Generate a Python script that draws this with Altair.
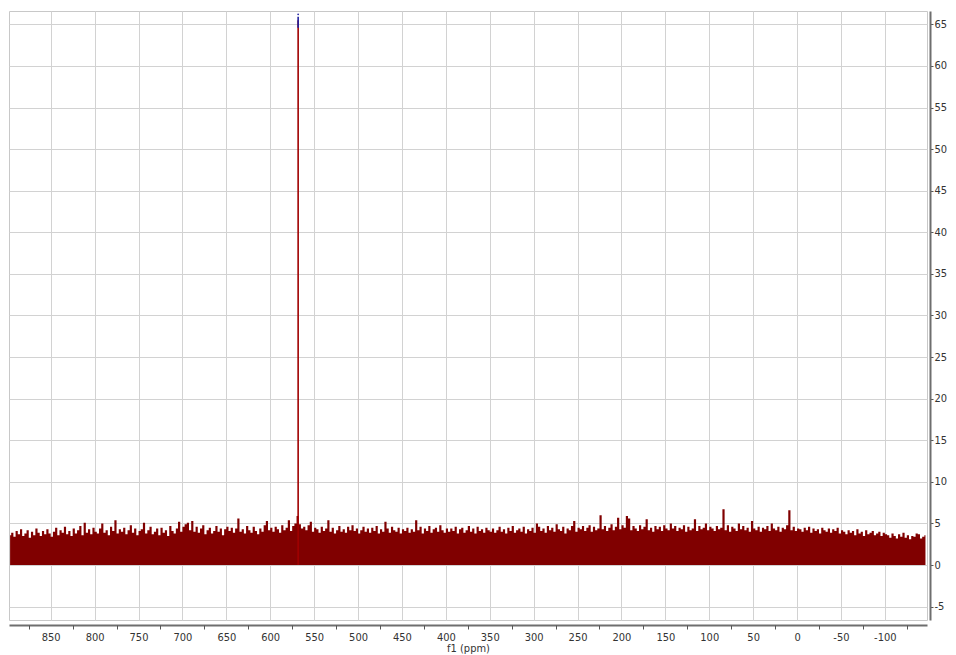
import altair as alt
import pandas as pd
import numpy as np

# spectrum sampled in 2.5 ppm bins, starting at the left edge (897.5 ppm)
ppm_start = 897.5
ppm_step = 2.5
noise = [
    3.6,3.9,3.4,4.1,3.7,4.3,3.5,3.8,4.2,3.3,4.0,3.6,4.4,3.9,3.5,4.1,3.7,4.3,3.8,3.4,
    4.0,4.5,3.6,4.2,3.9,4.6,3.7,4.1,3.5,4.4,3.8,4.2,4.7,3.6,5.1,3.9,4.3,3.7,4.5,4.0,
    3.8,4.4,5.0,3.9,4.2,3.6,4.6,4.1,5.4,3.8,4.3,4.0,4.5,3.7,4.2,4.8,3.9,4.4,3.6,4.1,
    4.3,5.1,3.8,4.2,4.6,3.7,4.0,4.4,3.6,4.5,3.9,4.2,3.5,4.7,4.1,3.8,4.4,5.2,4.0,4.6,
    4.9,5.1,4.2,5.3,4.0,4.6,3.9,4.4,4.8,3.7,4.2,4.5,3.8,4.1,4.7,4.0,4.4,3.6,4.3,4.6,
    4.1,4.5,3.9,4.4,5.6,4.0,4.3,3.8,4.7,4.2,3.9,4.6,4.1,3.7,4.4,4.0,4.8,5.3,4.2,4.5,
    4.0,4.6,4.3,3.9,4.8,4.2,4.5,5.4,4.1,4.7,5.0,5.9,4.9,4.4,4.6,4.2,4.8,5.2,4.0,4.5,
    4.3,3.9,4.6,4.1,4.4,5.4,4.0,4.5,3.8,4.2,4.7,4.0,4.3,3.9,4.6,4.2,4.8,4.1,4.4,3.8,
    4.2,4.6,4.0,4.4,3.9,4.5,4.1,4.7,3.8,4.3,4.0,5.2,4.4,3.9,4.6,4.2,4.0,4.5,3.8,4.3,
    4.1,4.5,3.9,4.3,4.0,5.4,4.2,4.6,3.8,4.4,4.1,4.7,3.9,4.3,4.5,4.0,4.8,4.2,3.9,4.4,
    4.0,4.4,4.1,4.6,3.8,4.3,4.5,3.9,4.2,4.7,4.0,4.4,3.8,4.6,4.1,4.3,3.9,4.5,4.2,4.0,
    4.4,3.9,4.2,4.6,4.0,4.3,3.8,4.5,4.1,4.7,3.9,4.2,4.4,4.0,4.6,3.8,4.3,4.1,4.5,3.9,
    5.0,4.6,4.1,4.4,3.9,4.7,4.2,4.5,4.0,4.9,4.3,4.1,4.6,3.8,4.4,4.2,4.7,5.3,4.0,4.5,
    4.3,4.7,4.1,4.5,4.8,4.0,4.6,4.2,4.4,6.0,4.3,4.7,4.1,4.5,4.9,4.2,4.6,5.7,4.3,4.8,
    4.5,5.9,5.6,4.2,4.7,4.4,4.1,4.8,4.3,4.6,5.5,4.2,4.5,4.0,4.7,4.3,4.6,4.1,4.8,4.4,
    4.2,5.0,4.4,4.7,4.1,4.5,4.3,4.8,4.0,4.6,4.2,4.4,5.5,4.1,4.7,4.3,4.5,5.0,4.2,4.6,
    4.4,4.1,4.7,4.3,4.5,6.7,4.2,4.8,4.0,4.6,4.4,4.1,5.0,4.3,4.7,4.2,4.5,4.0,5.3,4.4,
    4.2,4.6,4.0,4.5,4.3,4.7,4.1,5.0,4.4,4.2,4.6,4.0,4.5,4.3,4.8,6.6,4.2,4.6,4.1,4.4,
    4.3,4.0,4.5,4.2,4.6,3.9,4.4,4.1,4.3,3.8,4.5,4.2,4.0,4.4,3.9,4.3,4.1,4.5,3.8,4.2,
    4.0,3.7,4.2,3.9,4.1,3.6,4.3,3.8,4.0,3.5,4.2,3.7,3.9,4.1,3.6,3.8,4.0,3.5,3.9,3.7,
    3.6,3.3,3.8,3.5,3.2,3.7,3.4,3.9,3.3,3.6,3.1,3.5,3.4,3.8,3.7,3.2,3.4,3.6,
]

peak_ppm = 568.2
peak_top = 65.5
tip_low = 64.6
tip_high = 65.9
marker_value = 66.2

x_domain = [-148, 897.5]
y_domain = [-6.6, 66.6]
x_major = list(range(850, -101, -50))
x_minor = list(range(875, -150, -50))
y_ticks = [-5 + 2.5 * k for k in range(29)]

centers = ppm_start - ppm_step * (np.arange(len(noise)) + 0.5)
df_noise = pd.DataFrame({"ppm": centers, "h": noise})
df_peak = pd.DataFrame({"ppm": [peak_ppm], "h": [peak_top], "lo": [tip_low],
                        "hi": [tip_high], "mk": [marker_value]})

FONT = "'DejaVu Sans Condensed', 'Liberation Sans', sans-serif"

x_scale = alt.Scale(domain=x_domain, reverse=True, nice=False, zero=False)
y_scale = alt.Scale(domain=y_domain, nice=False, zero=False)

x_axis = alt.Axis(
    values=x_major,
    labelExpr="'' + datum.value",
    labelOverlap=False,
    labelFlush=False,
    ticks=False,
    grid=True,
    title="f1 (ppm)",
    orient="bottom",
    offset=5,
    labelPadding=6,
    titlePadding=0,
)
x_minor_axis = alt.Axis(
    values=x_minor,
    labels=False,
    grid=False,
    domain=False,
    ticks=True,
    tickSize=4,
    title=None,
    orient="bottom",
    offset=5,
)
y_axis = alt.Axis(
    orient="right",
    values=y_ticks,
    labelExpr="datum.value % 5 === 0 ? '' + datum.value : ''",
    labelOverlap=False,
    labelFlush=False,
    gridOpacity={"condition": {"test": "datum.value % 5 === 0", "value": 1}, "value": 0},
    tickSize={"condition": {"test": "datum.value % 5 === 0", "value": 3}, "value": 2},
    title=None,
    offset=3,
    labelPadding=1,
)

noise_layer = alt.Chart(df_noise).mark_area(interpolate="step", color="#800000").encode(
    x=alt.X("ppm:Q", scale=x_scale, axis=x_axis),
    y=alt.Y("h:Q", scale=y_scale, axis=y_axis),
    y2=alt.datum(0),
)

peak_layer = alt.Chart(df_peak).mark_rule(color="#a00000", strokeWidth=1.6).encode(
    x=alt.X("ppm:Q", scale=x_scale, axis=x_minor_axis),
    y=alt.Y("h:Q"),
    y2=alt.datum(0),
)

tip_layer = alt.Chart(df_peak).mark_rule(color="#2020a0", strokeWidth=1.6).encode(
    x=alt.X("ppm:Q", scale=x_scale, axis=None),
    y=alt.Y("hi:Q"),
    y2="lo:Q",
)

mark_layer = alt.Chart(df_peak).mark_point(color="#2020a0", filled=True, size=3, opacity=1).encode(
    x=alt.X("ppm:Q", scale=x_scale, axis=None),
    y=alt.Y("mk:Q"),
)

chart = alt.layer(noise_layer, peak_layer, tip_layer, mark_layer).resolve_axis(
    x="independent"
).properties(
    width=918,
    height=609,
    padding={"left": 1, "top": 3, "right": 21, "bottom": 35},
    autosize=alt.AutoSizeParams(type="none"),
).configure_view(
    stroke="#c8c8c8", strokeWidth=1
).configure_axis(
    labelFont=FONT, labelFontSize=11, labelColor="#333333",
    titleFont=FONT, titleFontSize=11, titleColor="#333333", titleFontWeight="normal",
    domainColor="#6e6e6e", domainWidth=2,
    tickColor="#555555", tickWidth=1,
    gridColor="#d2d2d2", gridWidth=1,
)

chart.save("out.html", embed_options={"renderer": "svg", "actions": False})
